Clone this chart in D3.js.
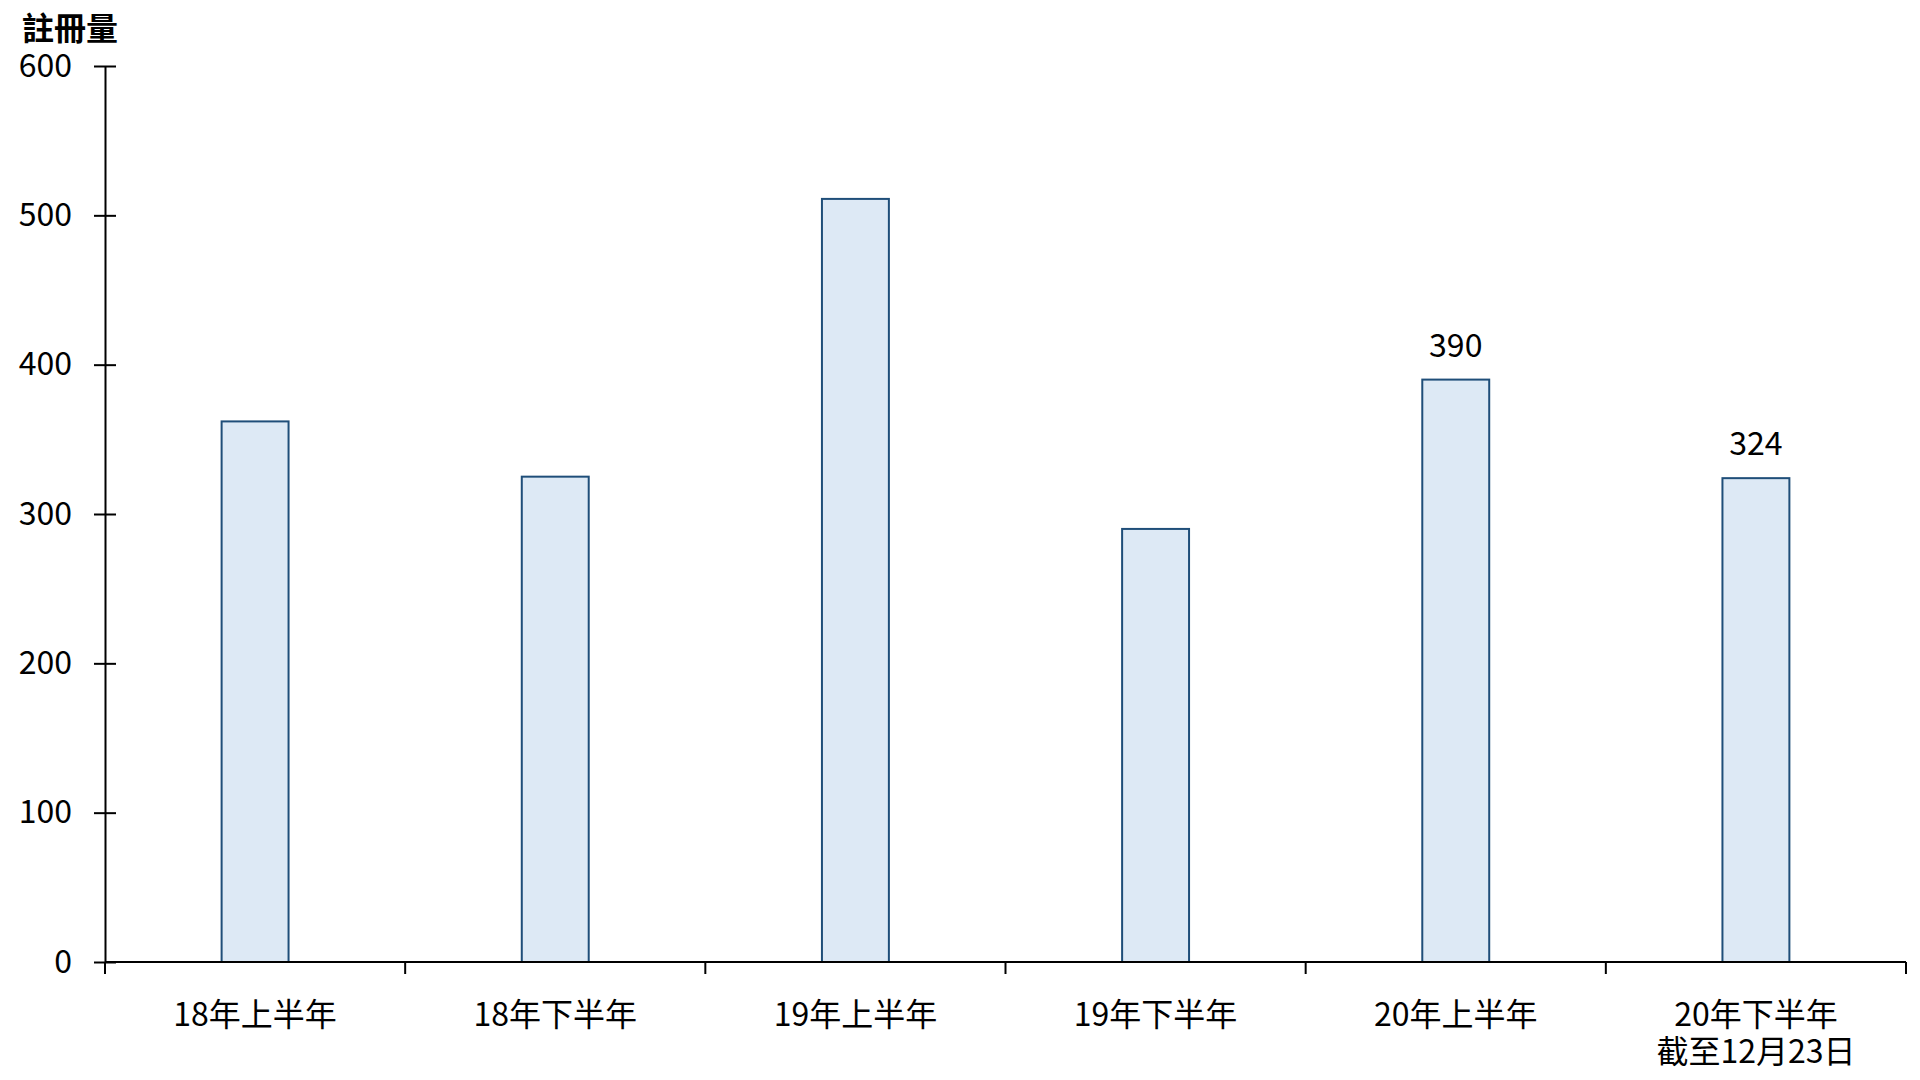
<!DOCTYPE html>
<html>
<head>
<meta charset="utf-8">
<script src="https://cdn.jsdelivr.net/npm/d3@7"></script>
<style>
  body { margin: 0; background: #fff; }
  text { font-family: "Noto Sans CJK TC", "Noto Sans", sans-serif; }
</style>
</head>
<body>
<div id="chart"></div>
<script>
/* Data */
var categories = ["18年上半年", "18年下半年", "19年上半年", "19年下半年", "20年上半年", "20年下半年\n截至12月23日"];
var values = [362, 325, 511, 290, 390, 324];
var labelled = [false, false, false, false, true, true];
var yTicks = [0, 100, 200, 300, 400, 500, 600];
var yTitle = "註冊量";

var inputWidth = 1920,
    inputHeight = 1080,
    fontSize = 32;

var margin = { top: 66, left: 105, right: 14, bottom: 118 },
    width = inputWidth - margin.left - margin.right,
    height = inputHeight - margin.top - margin.bottom;

var svg = d3.select("#chart")
    .append("svg")
    .attr("width", inputWidth)
    .attr("height", inputHeight);

var g = svg.append("g")
    .attr("transform", "translate(" + margin.left + "," + margin.top + ")");

var x = d3.scaleBand()
    .domain(categories)
    .range([0, width])
    .paddingInner(0.777)
    .paddingOuter(0.3885);

var y = d3.scaleLinear()
    .domain([0, 600])
    .range([height, 0]);

/* Bars */
g.selectAll("rect.bar")
    .data(values)
    .enter().append("rect")
    .attr("class", "bar")
    .attr("x", function(d, i) { return x(categories[i]); })
    .attr("y", function(d) { return y(d); })
    .attr("width", x.bandwidth())
    .attr("height", function(d) { return height - y(d); })
    .attr("fill", "#dde9f5")
    .attr("stroke", "#1f4e79")
    .attr("stroke-width", 2);

/* Value labels on the last two bars */
g.selectAll("text.value")
    .data(values.filter(function(d, i) { return labelled[i]; }))
    .enter().append("text")
    .attr("class", "value")
    .attr("x", function(d) {
        var i = values.indexOf(d);
        return x(categories[i]) + x.bandwidth() / 2;
    })
    .attr("y", function(d) { return y(d) - 23; })
    .attr("text-anchor", "middle")
    .attr("font-size", fontSize)
    .attr("fill", "#000")
    .text(function(d) { return d; });

/* Y axis: ticks cross the line */
var yAxis = g.append("g")
    .call(d3.axisLeft(y).tickValues(yTicks).tickSize(11).tickPadding(22).tickSizeOuter(0));
yAxis.select(".domain").attr("stroke", "#000").attr("stroke-width", 2);
yAxis.selectAll(".tick line")
    .attr("x2", 11).attr("x1", -11)
    .attr("stroke", "#000").attr("stroke-width", 2);
yAxis.selectAll(".tick text")
    .attr("font-size", fontSize)
    .attr("font-family", "\"Noto Sans CJK TC\", \"Noto Sans\", sans-serif")
    .attr("fill", "#000");

/* X axis: ticks between the categories */
var xAxisG = g.append("g")
    .attr("transform", "translate(0," + height + ")");
xAxisG.append("line")
    .attr("x1", 0).attr("x2", width)
    .attr("stroke", "#000").attr("stroke-width", 2);
var step = width / categories.length;
xAxisG.selectAll("line.sep")
    .data(d3.range(categories.length + 1))
    .enter().append("line")
    .attr("class", "sep")
    .attr("x1", function(d) { return d * step; })
    .attr("x2", function(d) { return d * step; })
    .attr("y1", 0).attr("y2", 12)
    .attr("stroke", "#000").attr("stroke-width", 2);

var xl = xAxisG.selectAll("text.cat")
    .data(categories)
    .enter().append("text")
    .attr("class", "cat")
    .attr("text-anchor", "middle")
    .attr("font-size", fontSize)
    .attr("fill", "#000")
    .attr("transform", function(d) { return "translate(" + (x(d) + x.bandwidth() / 2) + ",64)"; });
xl.selectAll("tspan")
    .data(function(d) { return d.split("\n"); })
    .enter().append("tspan")
    .attr("x", 0)
    .attr("dy", function(d, i) { return i === 0 ? 0 : 37; })
    .text(function(d) { return d; });

/* Axis title */
svg.append("text")
    .attr("x", 22)
    .attr("y", 40)
    .attr("font-size", fontSize)
    .attr("font-weight", "bold")
    .attr("fill", "#000")
    .text(yTitle);
</script>
</body>
</html>
